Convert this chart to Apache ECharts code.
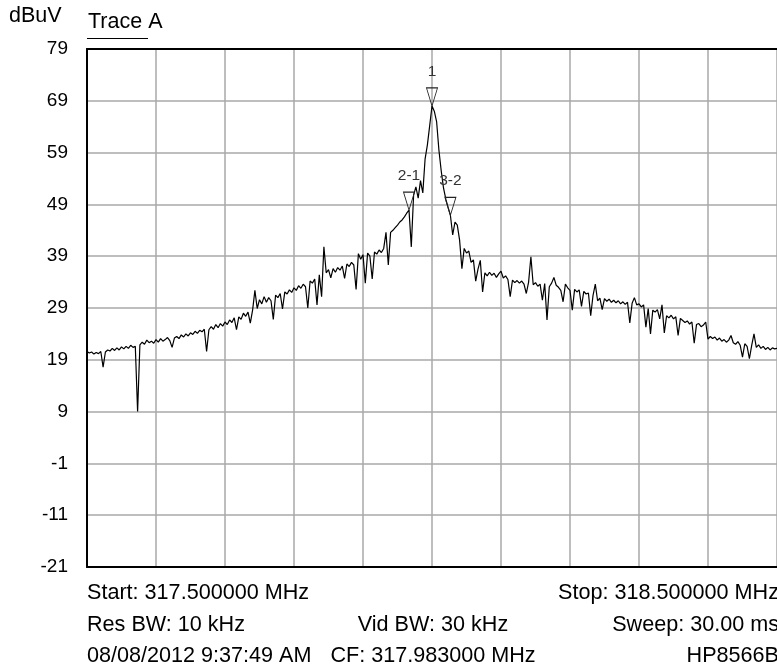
<!DOCTYPE html>
<html>
<head>
<meta charset="utf-8">
<title>Trace A</title>
<script src="https://cdn.jsdelivr.net/npm/echarts@6/dist/echarts.min.js"></script>
<style>
  html, body { margin: 0; padding: 0; background: #fff; }
  #chart { width: 777px; height: 671px; }
</style>
</head>
<body>
<div id="chart"></div>
<script>
// sweep: 317.5 .. 318.5 MHz, one value per trace point (dBuV)
const traceLevel = [
  20.6, 20.3, 20.5, 20.1, 20.4, 20.2, 20.6, 17.6, 20.5, 20.9,
  20.7, 21.2, 20.8, 21.3, 20.9, 21.5, 21.1, 21.6, 21.2, 21.8,
  21.4, 21.6, 9.0, 21.9, 22.4, 22.0, 22.8, 22.3, 22.6, 22.2,
  22.9, 22.4, 23.1, 22.6, 22.9, 23.3, 22.7, 21.4, 23.2, 23.5,
  23.1, 23.8, 23.4, 24.0, 23.6, 24.2, 23.9, 24.5, 24.1, 24.7,
  24.4, 24.9, 20.6, 24.8, 25.4, 24.9, 25.8, 25.2, 26.0, 25.5,
  26.3, 25.8, 26.7, 26.2, 27.1, 24.8, 27.3, 26.8, 28.0, 27.4,
  28.2, 26.1, 28.6, 32.4, 28.9, 30.6, 29.8, 31.2, 30.1, 31.0,
  30.4, 26.8, 31.5, 31.0, 31.8, 28.8, 32.1, 31.7, 32.5, 32.0,
  32.9, 32.4, 33.3, 32.8, 33.6, 33.1, 29.0, 34.2, 33.8, 34.6,
  29.6, 35.4, 31.2, 40.8, 35.8, 36.4, 34.8, 36.6, 35.9, 36.8,
  36.3, 37.1, 34.7, 37.5, 37.0, 37.8, 37.3, 32.6, 39.5, 38.4,
  39.3, 33.8, 39.6, 39.0, 34.6, 39.8, 39.4, 40.2, 39.7, 40.5,
  43.6, 37.3, 43.6, 44.0, 44.5, 45.0, 45.6, 46.0, 46.6, 47.3,
  47.9, 40.8, 50.8, 52.4, 50.2, 53.6, 51.2, 57.8, 60.5, 64.2,
  68.0, 67.0, 65.0, 59.5, 55.5, 52.2, 50.0, 48.4, 46.9, 43.1,
  45.6, 45.0, 42.1, 36.6, 40.5, 39.6, 40.0, 37.8, 38.3, 34.2,
  36.5, 38.2, 32.1, 35.8, 35.2, 35.9, 35.3, 35.7, 34.9, 35.6,
  36.1, 34.8, 35.2, 34.5, 31.2, 34.4, 33.9, 34.3, 33.8, 34.2,
  33.6, 31.8, 34.0, 38.9, 33.5, 33.9, 33.2, 33.6, 30.5, 33.7,
  26.7, 33.1, 33.8, 34.9, 33.4, 33.0, 32.4, 30.2, 33.6, 32.9,
  32.4, 28.6, 32.6, 32.1, 32.5, 29.3, 32.2, 31.7, 31.9, 27.5,
  31.4, 33.6, 30.4, 30.9, 28.7, 30.8, 30.3, 30.7, 30.1, 30.5,
  30.0, 30.4, 29.8, 30.2, 29.7, 30.1, 26.1, 29.9, 31.0, 29.6,
  29.8, 29.2, 29.6, 25.3, 28.9, 24.0, 28.6, 28.2, 28.7, 26.9,
  29.6, 24.2, 27.5, 27.1, 27.6, 26.9, 27.3, 23.7, 27.0, 26.6,
  26.2, 26.5, 25.9, 26.3, 22.2, 25.8, 26.0, 25.4, 25.7, 26.3,
  23.0, 23.5, 23.1, 23.4, 22.8, 23.2, 22.6, 22.9, 22.4, 22.8,
  23.7, 22.3, 22.0, 22.5, 21.8, 19.5, 22.1, 21.6, 19.2, 21.8,
  24.0, 21.4, 21.9, 21.2, 21.6, 21.0, 21.4, 20.9, 21.3, 21.1,
  21.2
];

const markerNames = ["1", "2-1", "3-2"];
const markerIndex = [150, 140, 158];

const yTicks = { min: -21, max: 79, step: 10 };

const footerLeft = ["Start: 317.500000 MHz", "Res BW: 10 kHz", "08/08/2012 9:37:49 AM"];
const footerCenter = ["", "Vid BW: 30 kHz", "CF: 317.983000 MHz"];
const footerRight = ["Stop: 318.500000 MHz", "Sweep: 30.00 ms", "HP8566B"];

const FONT = '"Liberation Sans", Arial, sans-serif';
const plot = { left: 87, top: 49, width: 692, height: 518 };
const footerY = [593, 625.5, 656];

const chart = echarts.init(document.getElementById("chart"), null, { renderer: "canvas" });

const traceData = traceLevel.map((v, i) => [i, v]);
const markerData = markerNames.map((name, k) => ({
  name,
  coord: [markerIndex[k], traceLevel[markerIndex[k]]],
}));

function footerText(lines, x, align) {
  return lines
    .map((t, k) => ({
      type: "text",
      x,
      y: footerY[k],
      silent: true,
      style: {
        text: t,
        font: `21.6px ${FONT}`,
        fill: "#000",
        align,
        verticalAlign: "middle",
      },
    }))
    .filter((g) => g.style.text);
}

const option = {
  animation: false,
  backgroundColor: "#fff",
  grid: { left: plot.left, top: plot.top, width: plot.width, height: plot.height },
  xAxis: [
    {
      type: "value",
      min: 0,
      max: traceLevel.length - 1,
      interval: (traceLevel.length - 1) / 10,
      axisLine: { show: true, onZero: false, lineStyle: { color: "#000", width: 2 } },
      axisTick: { show: false },
      axisLabel: { show: false },
      splitLine: { show: true, lineStyle: { color: "#a8a8a8", width: 1.5 } },
    },
    {
      type: "value",
      position: "top",
      min: 0,
      max: traceLevel.length - 1,
      axisLine: { show: true, onZero: false, lineStyle: { color: "#000", width: 2 } },
      axisTick: { show: false },
      axisLabel: { show: false },
      splitLine: { show: false },
    },
  ],
  yAxis: {
    type: "value",
    min: yTicks.min,
    max: yTicks.max,
    interval: yTicks.step,
    axisLine: { show: true, onZero: false, lineStyle: { color: "#000", width: 2 } },
    axisTick: { show: false },
    axisLabel: { color: "#000", fontSize: 19, fontFamily: FONT, margin: 19 },
    splitLine: { show: true, lineStyle: { color: "#a8a8a8", width: 1.5 } },
  },
  series: [
    {
      name: "Trace A",
      type: "line",
      data: traceData,
      showSymbol: false,
      silent: true,
      lineStyle: { color: "#000", width: 1.2 },
      markPoint: {
        silent: true,
        symbol: "path://M0,0 L10,0 L5,18 Z",
        symbolSize: [11, 18],
        symbolOffset: [0, -9],
        itemStyle: { color: "rgba(0,0,0,0)", borderColor: "#222", borderWidth: 1 },
        label: {
          show: true,
          position: "top",
          distance: 8,
          formatter: "{b}",
          color: "#333",
          fontSize: 15.5,
          fontFamily: FONT,
        },
        data: markerData,
      },
    },
  ],
  graphic: [
    {
      type: "text",
      x: 9,
      y: 16,
      silent: true,
      style: { text: "dBuV", font: `21.5px ${FONT}`, fill: "#000", verticalAlign: "middle" },
    },
    {
      type: "text",
      x: 88,
      y: 22,
      silent: true,
      style: { text: "Trace A", font: `21.5px ${FONT}`, fill: "#000", verticalAlign: "middle" },
    },
    {
      type: "line",
      silent: true,
      shape: { x1: 87, y1: 38.5, x2: 148, y2: 38.5 },
      style: { stroke: "#000", lineWidth: 1 },
    },
    ...footerText(footerLeft, 87, "left"),
    ...footerText(footerCenter, plot.left + plot.width / 2, "center"),
    ...footerText(footerRight, plot.left + plot.width, "right"),
  ],
};

chart.setOption(option);
window.addEventListener("resize", () => chart.resize());
</script>
</body>
</html>
